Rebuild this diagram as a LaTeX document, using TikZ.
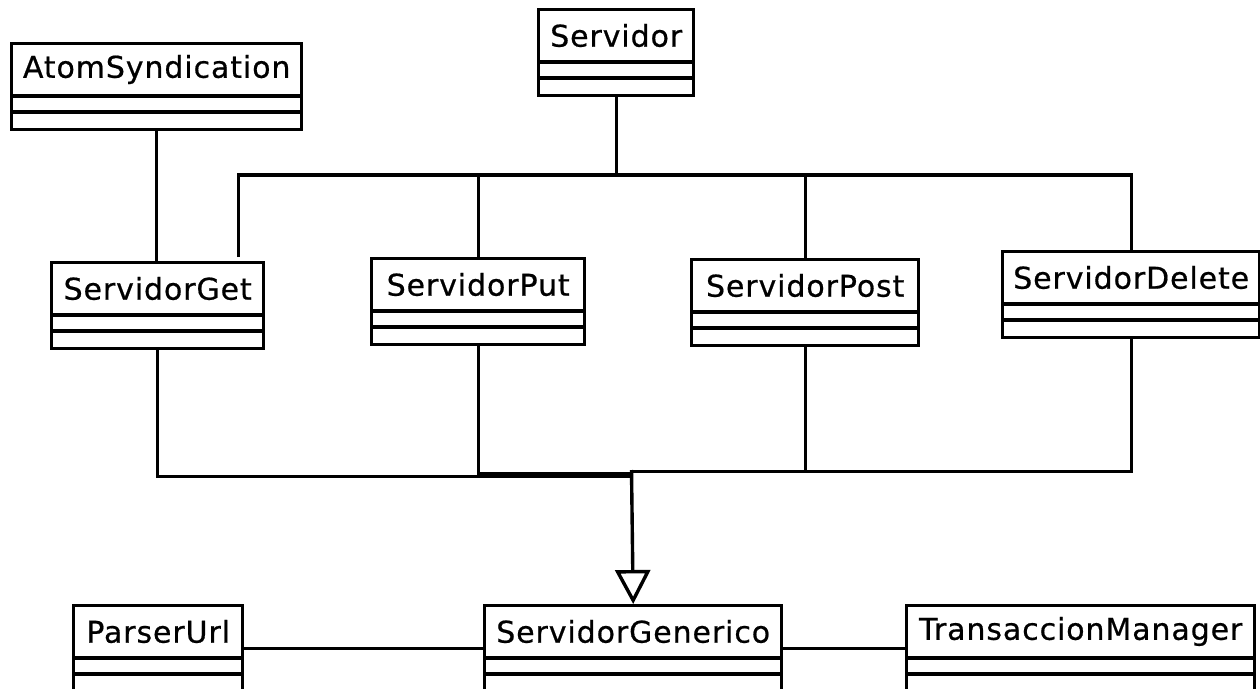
\documentclass[tikz,border=0pt]{standalone}
\usepackage{fontspec}
\setmainfont{DejaVu Sans}[LetterSpace=3, FakeBold=0.6]
\usetikzlibrary{calc,arrows.meta}

% One UML class: outer frame, name compartment and two empty compartments
\newcommand\umlclass[5]{% #1 id, #2 left, #3 top, #4 width, #5 class name
  \node[classbox, minimum width=#4pt, anchor=north west] (#1) at (#2,#3) {};
  \node[classname] (#1-name) at ($(#1.north)+(0,27.5)$) {#5};
  \draw[classline] ($(#1.north west)+(0,54)$) -- ($(#1.north east)+(0,54)$);
  \draw[classline] ($(#1.north west)+(0,70)$) -- ($(#1.north east)+(0,70)$);
}

\begin{document}
\begin{tikzpicture}[x=1pt, y=-1pt,
  classbox/.style={draw, line width=3.4pt, minimum height=86pt, inner sep=0pt, fill=white},
  classname/.style={inner sep=0pt, font=\fontsize{30}{36}\selectfont},
  classline/.style={line width=3.4pt},
  link/.style={line width=3.4pt},
  inherit/.style={line width=3.4pt, -{Triangle[open, length=34pt, width=35pt]}}]

  \useasboundingbox (0,0) rectangle (1260,688);

  % classes
  \umlclass{atom}{10}{42}{290}{AtomSyndication}
  \umlclass{serv}{537}{8}{155}{Servidor}
  \umlclass{get}{50}{261}{212}{ServidorGet}
  \umlclass{put}{370}{257}{213}{ServidorPut}
  \umlclass{post}{690}{258}{227}{ServidorPost}
  \umlclass{del}{1001}{250}{257}{ServidorDelete}
  \umlclass{parser}{72}{604}{169}{ParserUrl}
  \umlclass{gen}{483}{604}{297}{ServidorGenerico}
  \umlclass{trans}{905}{604}{348}{TransaccionManager}

  % AtomSyndication -- ServidorGet
  \draw[link] (atom.south) -- (atom.south |- get.north);

  % Servidor and its four request handlers
  \coordinate (bus) at (616,175);
  \draw[link] ([xshift=81pt, yshift=4pt]get.north) |- (del.north |- bus) -- (del.north);
  \draw[link] (serv.south) -- (serv.south |- bus);
  \draw[link] (put.north) -- (put.north |- bus);
  \draw[link] (post.north) -- (post.north |- bus);

  % handlers generalise to ServidorGenerico
  \coordinate (merge) at (631.5,471.5);
  \draw[link] (get.south) |- ([yshift=-5pt]merge);
  \draw[link] (put.south) |- ([yshift=-2pt]merge);
  \draw[link] (del.south) |- (merge);
  \draw[link] (post.south) -- (post.south |- merge);
  \draw[inherit] ([yshift=1.5pt]merge) -- (gen.north);

  % associations of ServidorGenerico
  \draw[link] (parser.east) -- (gen.west);
  \draw[link] (gen.east) -- (trans.west);
\end{tikzpicture}
\end{document}
